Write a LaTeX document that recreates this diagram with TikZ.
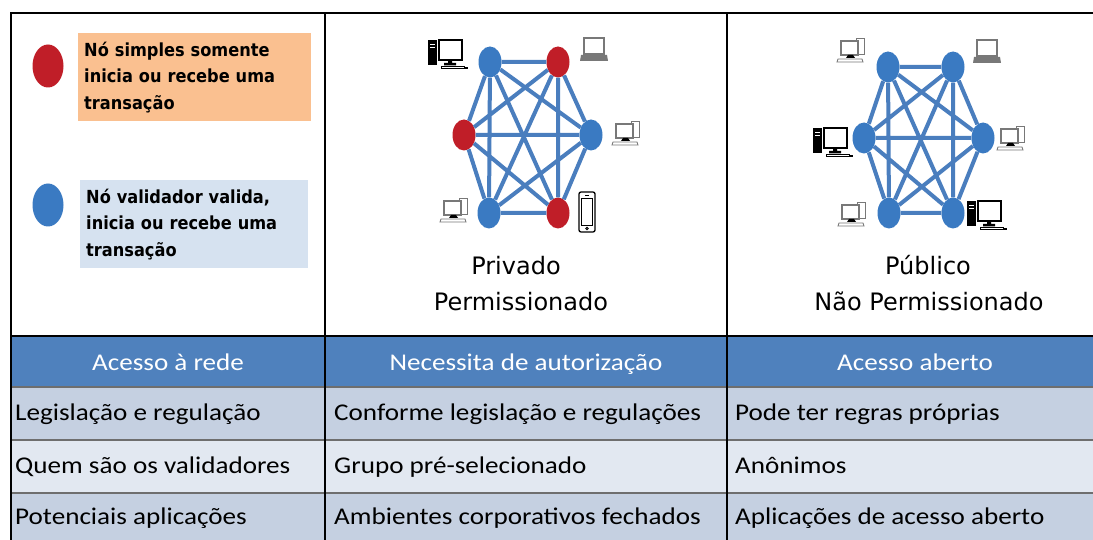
\documentclass[tikz,border=0pt]{standalone}
\usepackage{fontspec}
\setmainfont{Carlito}
\newfontfamily\capfont{DejaVu Sans}
\newfontfamily\legfont[FakeStretch=0.9]{DejaVu Sans}
\newfontfamily\tabfont[FakeStretch=1.13]{Carlito}
\usepackage{tikz}
\usetikzlibrary{shapes.geometric}

\definecolor{hdrblue}{RGB}{79,129,189}
\definecolor{rowdark}{RGB}{197,208,225}
\definecolor{rowlight}{RGB}{226,232,241}
\definecolor{rowline}{RGB}{110,110,110}
\definecolor{legorange}{RGB}{250,192,144}
\definecolor{legblue}{RGB}{214,226,240}
\definecolor{nodered}{RGB}{192,30,40}
\definecolor{nodeblue}{RGB}{58,122,194}
\definecolor{edgeblue}{RGB}{74,126,190}
\definecolor{devgray}{RGB}{120,120,120}

\tikzset{
  frame/.style={line width=2.6pt, black},
  valnode/.style={ellipse, fill=nodeblue, minimum width=23, minimum height=31, inner sep=0pt},
  simnode/.style={ellipse, fill=nodered, minimum width=23, minimum height=31, inner sep=0pt},
  legdot/.style={ellipse, minimum width=31, minimum height=43, inner sep=0pt},
  legbox/.style={anchor=north west, minimum height=88, inner xsep=6pt, align=left,
    font=\legfont\bfseries\fontsize{18}{26.5}\selectfont},
  edge/.style={line width=4pt, edgeblue},
  capt/.style={font=\capfont\fontsize{24}{26}\selectfont, inner sep=0pt, anchor=base},
  hdrtext/.style={font=\tabfont\fontsize{24}{26}\selectfont, text=white, inner sep=0pt, anchor=base},
  celltext/.style={font=\tabfont\fontsize{24}{26}\selectfont, anchor=base west, inner sep=0pt},
  % desktop with black tower
  blackpc/.pic={
    \fill[black] (-19,-13) rectangle (-10,12);
    \draw[white, line width=0.8pt] (-17,-9) -- (-12,-9) (-17,-6) -- (-12,-6);
    \draw[black, line width=1.4pt, fill=white] (-8,-13) rectangle (15,7);
    \fill[black] (1,7) rectangle (5,10) (-3,10) rectangle (9,12.5);
    \draw[black, line width=0.9pt] (-6,13) rectangle (17,15.5);
    \fill[black] (17,14) rectangle (21,16);
  },
  % desktop drawn in gray outline
  whitepc/.pic={
    \draw[devgray, line width=1pt, fill=white] (4,-11) rectangle (12,5);
    \draw[devgray, line width=1.2pt, fill=white] (-11,-9) rectangle (6,5);
    \fill[black] (-4,5) -- (1,5) -- (3,8) -- (-6,8) -- cycle;
    \draw[devgray, line width=0.9pt, fill=white] (-14,9) -- (10,9) -- (11,12) -- (-15,12) -- cycle;
  },
  % laptop
  laptop/.pic={
    \draw[devgray, line width=1.2pt, fill=white] (-10,-12) rectangle (10,4);
    \fill[devgray] (-13,5) -- (13,5) -- (14,11) -- (-14,11) -- cycle;
  },
  % smartphone
  phone/.pic={
    \draw[black, line width=1.3pt, fill=white, rounded corners=2pt] (-8,-20) rectangle (8,20);
    \draw[black, line width=0.8pt] (-5.5,-14) rectangle (5.5,13);
    \draw[black, line width=0.8pt] (-2,-17) -- (2,-17);
    \draw[black, line width=0.8pt] (0,16.5) circle (1.3);
  }
}

\begin{document}
\begin{tikzpicture}[x=1pt,y=-1pt]
\useasboundingbox (0,0) rectangle (1093,540);

% table rows
\fill[hdrblue] (11,336) rectangle (1093,387);
\fill[rowdark] (11,387) rectangle (1093,440);
\fill[rowlight] (11,440) rectangle (1093,493);
\fill[rowdark] (11,493) rectangle (1093,540);
\draw[rowline, line width=1.4pt] (11,387) -- (1093,387) (11,440) -- (1093,440) (11,493) -- (1093,493);
\draw[black, line width=1.4pt] (11,336) -- (1093,336);

% frame and column lines
\draw[frame] (11,540) -- (11,13) -- (1093,13);
\draw[frame] (325,13) -- (325,540);
\draw[frame] (727,13) -- (727,540);

% legend
\node[legdot, fill=nodered] (dotred) at (48,66) {};
\node[legbox, fill=legorange, text width=221] (boxred) at (78,33)
  {Nó simples somente\\inicia ou recebe uma\\transação};
\node[legdot, fill=nodeblue] (dotblue) at (48,205) {};
\node[legbox, fill=legblue, text width=216] (boxblue) at (80,180)
  {Nó validador valida,\\inicia ou recebe uma\\transação};

% private network
\node[valnode] (p1) at (490,62) {};
\node[simnode] (p2) at (558,62) {};
\node[simnode] (p3) at (464,135) {};
\node[valnode] (p4) at (591,135) {};
\node[valnode] (p5) at (489,213) {};
\node[simnode] (p6) at (558,213) {};
\draw[edge] (p1) -- (p2) (p1) -- (p3) (p1) -- (p4) (p1) -- (p5) (p1) -- (p6)
  (p2) -- (p3) (p2) -- (p4) (p2) -- (p5) (p2) -- (p6)
  (p3) -- (p4) (p3) -- (p5) (p3) -- (p6)
  (p4) -- (p5) (p4) -- (p6) (p5) -- (p6);
\pic at (447,53) {blackpc};
\pic at (594,50) {laptop};
\pic at (627,133) {whitepc};
\pic at (455,210) {whitepc};
\pic at (587,212) {phone};

% public network
\node[valnode] (q1) at (888,67) {};
\node[valnode] (q2) at (953,67) {};
\node[valnode] (q3) at (864,138) {};
\node[valnode] (q4) at (983,138) {};
\node[valnode] (q5) at (889,213) {};
\node[valnode] (q6) at (953,213) {};
\draw[edge] (q1) -- (q2) (q1) -- (q3) (q1) -- (q4) (q1) -- (q5) (q1) -- (q6)
  (q2) -- (q3) (q2) -- (q4) (q2) -- (q5) (q2) -- (q6)
  (q3) -- (q4) (q3) -- (q5) (q3) -- (q6)
  (q4) -- (q5) (q4) -- (q6) (q5) -- (q6);
\pic at (852,50) {whitepc};
\pic at (987,52) {laptop};
\pic at (832,141) {blackpc};
\pic at (1012,138) {whitepc};
\pic at (853,214) {whitepc};
\pic at (986,214) {blackpc};

% captions
\node[capt] (privado) at (516,275) {Privado};
\node[capt] (perm) at (521,310) {Permissionado};
\node[capt] (publico) at (928,275) {Público};
\node[capt] (naoperm) at (929,310) {Não Permissionado};

% header row
\node[hdrtext] (hrede) at (168,370) {Acesso à rede};
\node[hdrtext] (hautor) at (526,370) {Necessita de autorização};
\node[hdrtext] (haberto) at (915,370) {Acesso aberto};

% body rows
\node[celltext] (r1a) at (15,420) {Legislação e regulação};
\node[celltext] (r1b) at (334,420) {Conforme legislação e regulações};
\node[celltext] (r1c) at (735,420) {Pode ter regras próprias};
\node[celltext] (r2a) at (15,473) {Quem são os validadores};
\node[celltext] (r2b) at (334,473) {Grupo pré-selecionado};
\node[celltext] (r2c) at (735,473) {Anônimos};
\node[celltext] (r3a) at (15,524) {Potenciais aplicações};
\node[celltext] (r3b) at (334,524) {Ambientes corporativos fechados};
\node[celltext] (r3c) at (735,524) {Aplicações de acesso aberto};
\end{tikzpicture}
\end{document}
